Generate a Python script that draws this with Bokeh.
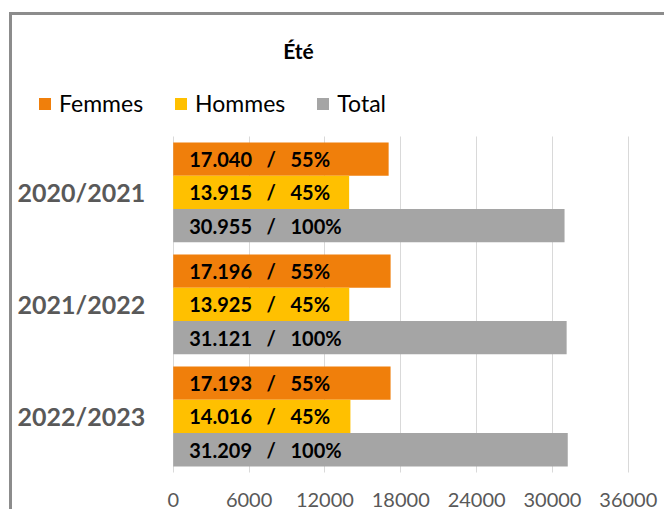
from bokeh.plotting import figure
from bokeh.models import ColumnDataSource, Legend, LegendItem, Label, FixedTicker, Range1d
from bokeh.core.properties import value
from bokeh.embed import file_html
from bokeh.resources import INLINE

# ---- data ----
seasons = ["2020/2021", "2021/2022", "2022/2023"]
femmes = [17040, 17196, 17193]
hommes = [13915, 13925, 14016]
total = [30955, 31121, 31209]
series_names = ["Femmes", "Hommes", "Total"]
x_ticks = [0, 6000, 12000, 18000, 24000, 30000, 36000]
title_text = "Été"

colors = ["#F07F0B", "#FFC000", "#A5A5A5"]
SEP = "\u00a0\u00a0\u00a0/\u00a0\u00a0\u00a0"


def fmt(v):
    return f"{v:,}".replace(",", ".")


def lab(v, t):
    return f"{fmt(v)}{SEP}{round(100 * v / t)}%"


n = len(seasons)
ypos = [n - 1 - i for i in range(n)]  # first season on top
bh = 0.297

src = ColumnDataSource(dict(
    season=seasons,
    y=ypos,
    yf=[y + bh for y in ypos],
    yh=ypos,
    yt=[y - bh for y in ypos],
    femmes=femmes,
    hommes=hommes,
    total=total,
    lf=[lab(v, t) for v, t in zip(femmes, total)],
    lh=[lab(v, t) for v, t in zip(hommes, total)],
    lt=[lab(v, t) for v, t in zip(total, total)],
))

# host 655 x 497 with a 3px left/top border -> canvas 652 x 494
W, H = 655, 497
CW = W - 3
MB = 38                               # bottom panel (x tick labels)
FH = (H - 3) - MB                     # frame height in px
px_per = 453 / 36000                  # px per unit along x
x0 = -160 / px_per                    # value 0 sits 160 px right of the frame's left edge
x1 = (CW - 160) / px_per
band = 334 / n                        # px per season
y_bottom = -0.5 - 2 / band            # bars end 2 px above the frame bottom
y_top = y_bottom + FH / band

p = figure(
    width=W, height=H,
    x_range=Range1d(x0, x1), y_range=Range1d(y_bottom, y_top),
    y_axis_location=None,
    output_backend="svg", toolbar_location=None,
    min_border_left=0, min_border_right=0, min_border_top=0, min_border_bottom=MB,
)
p.styles = {"border-left": "3px solid #8c8c8c", "border-top": "3px solid #8c8c8c",
            "box-sizing": "border-box", "margin-left": "9px", "margin-top": "12px"}
p.outline_line_color = None
p.background_fill_color = "white"
p.border_fill_color = "white"

r_f = p.hbar(y="yf", right="femmes", height=bh, left=0, source=src,
             fill_color=colors[0], line_color=None)
r_h = p.hbar(y="yh", right="hommes", height=bh, left=0, source=src,
             fill_color=colors[1], line_color=None)
r_t = p.hbar(y="yt", right="total", height=bh, left=0, source=src,
             fill_color=colors[2], line_color=None)

for col_y, col in [("yf", "lf"), ("yh", "lh"), ("yt", "lt")]:
    p.text(x=0, y=col_y, text=col, source=src,
           x_offset=16, text_baseline="middle", text_align="left",
           text_font=value("Lato"), text_font_style="bold", text_font_size="20px",
           text_color="black")

# category labels, left of the value axis origin
p.text(x=0, y="y", text="season", source=src, x_offset=-28,
       text_baseline="middle", text_align="right",
       text_font=value("Lato"), text_font_style="bold", text_font_size="25px",
       text_color="#595959")

# x axis
p.xaxis.ticker = FixedTicker(ticks=x_ticks)
p.xaxis.axis_line_color = None
p.xaxis.major_tick_line_color = None
p.xaxis.minor_tick_line_color = None
p.xaxis.major_label_standoff = 12
p.xaxis.major_label_text_font = "Lato"
p.xaxis.major_label_text_font_size = "20px"
p.xaxis.major_label_text_color = "#595959"

p.xgrid.grid_line_color = "#D9D9D9"
p.xgrid.grid_line_width = 1
p.xgrid.cross_bounds = (-0.5, n - 0.5)
p.ygrid.grid_line_color = None

# title
p.add_layout(Label(x=286, y=424, x_units="screen", y_units="screen", text=title_text,
                   text_align="center", text_baseline="alphabetic", text_font="Lato",
                   text_font_style="bold", text_font_size="21px", text_color="black"))

# legend
legend = Legend(items=[LegendItem(label=series_names[0], renderers=[r_f]),
                       LegendItem(label=series_names[1], renderers=[r_h]),
                       LegendItem(label=series_names[2], renderers=[r_t])],
                orientation="horizontal", location=(25, 357),
                glyph_width=15, glyph_height=15, label_standoff=7, spacing=30,
                padding=0, margin=0, border_line_color=None, background_fill_alpha=0,
                label_text_font="Lato", label_text_font_size="23px", label_text_color="black")
p.add_layout(legend, "center")

open("out.html", "w").write(file_html(p, INLINE))
